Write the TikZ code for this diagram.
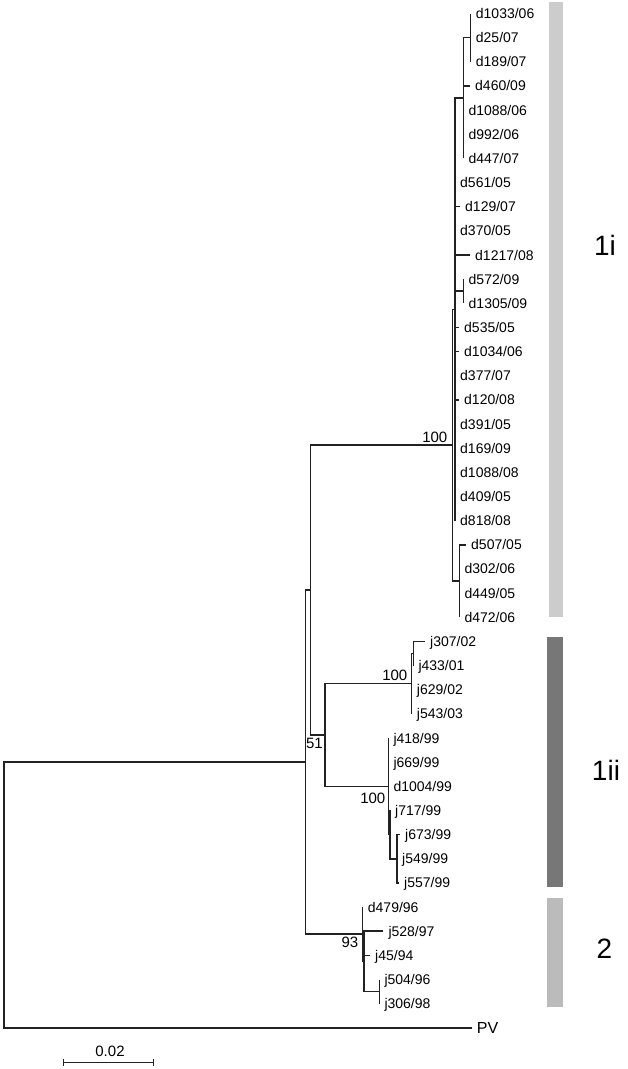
\documentclass[tikz,border=0pt]{standalone}
\usepackage{fontspec}
\setmainfont{Liberation Sans}
\usetikzlibrary{arrows.meta}
\definecolor{barA}{HTML}{CCCCCC}
\definecolor{barB}{HTML}{777777}
\definecolor{barC}{HTML}{BBBBBB}
\definecolor{treec}{HTML}{222222}
\begin{document}
\begin{tikzpicture}[x=1pt,y=-1pt,
  br/.style={line width=1.5pt, draw=treec, line join=miter},
  leaf/.style={anchor=base west, inner sep=0pt, yshift=-5pt, font=\fontsize{14}{16}\selectfont},
  boot/.style={inner sep=0pt, font=\fontsize{15}{17}\selectfont},
  grp/.style={inner sep=0pt, anchor=base, font=\fontsize{28}{32}\selectfont},
]
\useasboundingbox (0,0) rectangle (628,1069);
% internal nodes
\coordinate (R) at (4,894.98);
\coordinate (A) at (305.7,762.15);
\coordinate (B) at (310.7,590.08);
\coordinate (D) at (452.7,445.18);
\coordinate (E) at (455,309.34);
\coordinate (F) at (463.3,98.03);
\coordinate (F1) at (470.7,37.65);
\coordinate (G) at (463.5,291.23);
\coordinate (H) at (459.3,581.03);
\coordinate (C) at (325,734.98);
\coordinate (I) at (411.7,683.66);
\coordinate (I1) at (413.3,653.48);
\coordinate (J) at (388.3,786.3);
\coordinate (L) at (390,834.6);
\coordinate (K) at (397,858.75);
\coordinate (M) at (362.7,934.22);
\coordinate (P) at (364,961.39);
\coordinate (Q) at (379.3,991.58);
% tips
\coordinate (t0) at (470.7,13.5);
\coordinate (t1) at (470.7,37.65);
\coordinate (t2) at (470.7,61.8);
\coordinate (t3) at (470,85.95);
\coordinate (t4) at (463.3,110.1);
\coordinate (t5) at (463.3,134.25);
\coordinate (t6) at (463.3,158.4);
\coordinate (t7) at (455,182.55);
\coordinate (t8) at (460,206.7);
\coordinate (t9) at (455,230.85);
\coordinate (t10) at (470,255);
\coordinate (t11) at (463.5,279.15);
\coordinate (t12) at (463.5,303.3);
\coordinate (t13) at (459,327.45);
\coordinate (t14) at (459,351.6);
\coordinate (t15) at (455,375.75);
\coordinate (t16) at (459,399.9);
\coordinate (t17) at (455,424.05);
\coordinate (t18) at (455,448.2);
\coordinate (t19) at (455,472.35);
\coordinate (t20) at (455,496.5);
\coordinate (t21) at (455,520.65);
\coordinate (t22) at (466,544.8);
\coordinate (t23) at (459.3,568.95);
\coordinate (t24) at (459.3,593.1);
\coordinate (t25) at (459.3,617.25);
\coordinate (t26) at (425,641.4);
\coordinate (t27) at (413.3,665.55);
\coordinate (t28) at (411.7,689.7);
\coordinate (t29) at (411.7,713.85);
\coordinate (t30) at (388.3,738);
\coordinate (t31) at (388.3,762.15);
\coordinate (t32) at (388.3,786.3);
\coordinate (t33) at (390,810.45);
\coordinate (t34) at (400,834.6);
\coordinate (t35) at (397,858.75);
\coordinate (t36) at (399,882.9);
\coordinate (t37) at (362.7,907.05);
\coordinate (t38) at (383.3,931.2);
\coordinate (t39) at (370,955.35);
\coordinate (t40) at (379.3,979.5);
\coordinate (t41) at (379.3,1003.65);
\coordinate (t42) at (471.7,1027.8);
% group bars
\fill[barA] (549,2) rectangle (563,617);
\fill[barB] (547,637) rectangle (563,887);
\fill[barC] (547,898) rectangle (563,1007);
\node[grp] (g1) at (605,255) {1i};
\node[grp] (g2) at (606,780) {1ii};
\node[grp] (g3) at (604.5,958) {2};
% branches
\draw[br] (R) |- (A);
\draw[br] (R) |- (t42);
\draw[br] (A) |- (B);
\draw[br] (A) |- (M);
\draw[br] (B) |- (D);
\draw[br] (B) |- (C);
\draw[br] (D) |- (E);
\draw[br] (D) |- (H);
\draw[br] (E) |- (F);
\foreach \c in {t7,t8,t9,t10,G,t13,t14,t15,t16,t17,t18,t19,t20,t21} \draw[br] (E) |- (\c);
\foreach \c in {F1,t3,t4,t5,t6} \draw[br] (F) |- (\c);
\foreach \c in {t0,t1,t2} \draw[br] (F1) |- (\c);
\foreach \c in {t11,t12} \draw[br] (G) |- (\c);
\foreach \c in {t22,t23,t24,t25} \draw[br] (H) |- (\c);
\draw[br] (C) |- (I);
\draw[br] (C) |- (J);
\foreach \c in {I1,t28,t29} \draw[br] (I) |- (\c);
\foreach \c in {t26,t27} \draw[br] (I1) |- (\c);
\foreach \c in {t30,t31,t32,L} \draw[br] (J) |- (\c);
\foreach \c in {t33,K} \draw[br] (L) |- (\c);
\foreach \c in {t34,t35,t36} \draw[br] (K) |- (\c);
\foreach \c in {t37,P} \draw[br] (M) |- (\c);
\foreach \c in {t38,t39,Q} \draw[br] (P) |- (\c);
\foreach \c in {t40,t41} \draw[br] (Q) |- (\c);
% leaf labels
\node[leaf] (l0) at ([xshift=5pt]t0) {d1033/06};
\node[leaf] (l1) at ([xshift=5pt]t1) {d25/07};
\node[leaf] (l2) at ([xshift=5pt]t2) {d189/07};
\node[leaf] (l3) at ([xshift=5pt]t3) {d460/09};
\node[leaf] (l4) at ([xshift=5pt]t4) {d1088/06};
\node[leaf] (l5) at ([xshift=5pt]t5) {d992/06};
\node[leaf] (l6) at ([xshift=5pt]t6) {d447/07};
\node[leaf] (l7) at ([xshift=5pt]t7) {d561/05};
\node[leaf] (l8) at ([xshift=5pt]t8) {d129/07};
\node[leaf] (l9) at ([xshift=5pt]t9) {d370/05};
\node[leaf] (l10) at ([xshift=5pt]t10) {d1217/08};
\node[leaf] (l11) at ([xshift=5pt]t11) {d572/09};
\node[leaf] (l12) at ([xshift=5pt]t12) {d1305/09};
\node[leaf] (l13) at ([xshift=5pt]t13) {d535/05};
\node[leaf] (l14) at ([xshift=5pt]t14) {d1034/06};
\node[leaf] (l15) at ([xshift=5pt]t15) {d377/07};
\node[leaf] (l16) at ([xshift=5pt]t16) {d120/08};
\node[leaf] (l17) at ([xshift=5pt]t17) {d391/05};
\node[leaf] (l18) at ([xshift=5pt]t18) {d169/09};
\node[leaf] (l19) at ([xshift=5pt]t19) {d1088/08};
\node[leaf] (l20) at ([xshift=5pt]t20) {d409/05};
\node[leaf] (l21) at ([xshift=5pt]t21) {d818/08};
\node[leaf] (l22) at ([xshift=5pt]t22) {d507/05};
\node[leaf] (l23) at ([xshift=5pt]t23) {d302/06};
\node[leaf] (l24) at ([xshift=5pt]t24) {d449/05};
\node[leaf] (l25) at ([xshift=5pt]t25) {d472/06};
\node[leaf] (l26) at ([xshift=5pt]t26) {j307/02};
\node[leaf] (l27) at ([xshift=5pt]t27) {j433/01};
\node[leaf] (l28) at ([xshift=5pt]t28) {j629/02};
\node[leaf] (l29) at ([xshift=5pt]t29) {j543/03};
\node[leaf] (l30) at ([xshift=5pt]t30) {j418/99};
\node[leaf] (l31) at ([xshift=5pt]t31) {j669/99};
\node[leaf] (l32) at ([xshift=5pt]t32) {d1004/99};
\node[leaf] (l33) at ([xshift=5pt]t33) {j717/99};
\node[leaf] (l34) at ([xshift=5pt]t34) {j673/99};
\node[leaf] (l35) at ([xshift=5pt]t35) {j549/99};
\node[leaf] (l36) at ([xshift=5pt]t36) {j557/99};
\node[leaf] (l37) at ([xshift=5pt]t37) {d479/96};
\node[leaf] (l38) at ([xshift=5pt]t38) {j528/97};
\node[leaf] (l39) at ([xshift=5pt]t39) {j45/94};
\node[leaf] (l40) at ([xshift=5pt]t40) {j504/96};
\node[leaf] (l41) at ([xshift=5pt]t41) {j306/98};
\node[leaf, font=\fontsize{16}{18}\selectfont, yshift=-0.6pt] (l42) at ([xshift=5pt]t42) {PV};
% bootstrap values
\node[boot, anchor=base east] (bD) at (447.5,442) {100};
\node[boot, anchor=base east] (bI) at (407.5,680) {100};
\node[boot, anchor=base east] (bJ) at (385.5,803) {100};
\node[boot, anchor=base east] (bC) at (323,748) {51};
\node[boot, anchor=base east] (bM) at (358.5,947) {93};
% scale bar
\coordinate (s1) at (62.7,1062.7);
\coordinate (s2) at (154,1062.7);
\draw[br, line width=1.3pt, {Bar[width=7pt]}-{Bar[width=7pt]}] (s1) -- (s2);
\node[boot, anchor=base] (sl) at (110,1056.8) {0.02};
\end{tikzpicture}
\end{document}
